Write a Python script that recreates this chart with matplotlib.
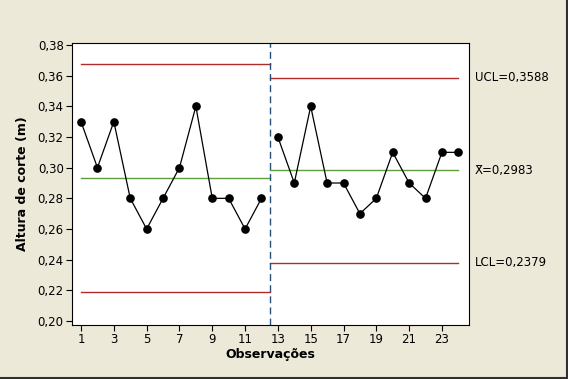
import matplotlib.pyplot as plt
import numpy as np

# dados
obs = np.arange(1, 25)
altura = [0.33, 0.30, 0.33, 0.28, 0.26, 0.28, 0.30, 0.34, 0.28, 0.28, 0.26, 0.28,
          0.32, 0.29, 0.34, 0.29, 0.29, 0.27, 0.28, 0.31, 0.29, 0.28, 0.31, 0.31]
fase1 = [1, 12.5]
fase2 = [12.5, 24]
ucl1, media1, lcl1 = 0.3675, 0.2933, 0.2192
ucl2, media2, lcl2 = 0.3588, 0.2983, 0.2379
rotulos = ['UCL=0,3588', 'X\u0304=0,2983', 'LCL=0,2379']
yticks = [0.20, 0.22, 0.24, 0.26, 0.28, 0.30, 0.32, 0.34, 0.36, 0.38]
xticks = [1, 3, 5, 7, 9, 11, 13, 15, 17, 19, 21, 23]

fundo = '#ECE9D8'
vermelho = '#B22A2A'
verde = '#5E9E3C'

fig = plt.figure(figsize=(5.68, 3.79), dpi=100, facecolor=fundo)
ax = fig.add_axes([72/568, 1-325/379, (469-72)/568, (325-43)/379])
ax.set_facecolor('white')

# limites de controle
ax.plot(fase1, [ucl1, ucl1], color=vermelho, lw=1)
ax.plot(fase1, [media1, media1], color=verde, lw=1)
ax.plot(fase1, [lcl1, lcl1], color=vermelho, lw=1)
ax.plot(fase2, [ucl2, ucl2], color=vermelho, lw=1)
ax.plot(fase2, [media2, media2], color=verde, lw=1)
ax.plot(fase2, [lcl2, lcl2], color=vermelho, lw=1)
ax.axvline(12.5, color='#24507A', lw=1, ls=(0, (5, 3)))

# pontos
ax.plot(obs[:12], altura[:12], color='black', lw=0.9, marker='o', ms=5.2)
ax.plot(obs[12:], altura[12:], color='black', lw=0.9, marker='o', ms=5.2)

ax.set_xlim(0.45, 24.65)
ax.set_ylim(0.1974, 0.3813)
ax.set_xticks(xticks)
ax.set_xticklabels([str(x) for x in xticks], fontsize=8.5)
ax.set_yticks(yticks)
ax.set_yticklabels([('%.2f' % y).replace('.', ',') for y in yticks], fontsize=8.5)
ax.tick_params(length=4, width=0.8, pad=2)
ax.set_xlabel('Observações', fontsize=9, fontweight='bold', labelpad=1)
ax.set_ylabel('Altura de corte (m)', fontsize=9, fontweight='bold', labelpad=6)

for v, t in zip([ucl2, media2, lcl2], rotulos):
    ax.text(1.015, v, t, transform=ax.get_yaxis_transform(), va='center', ha='left',
            fontsize=8.5, clip_on=False)

# borda da figura (so em baixo e a direita)
fig.add_artist(plt.Line2D([0, 1], [0.002, 0.002], transform=fig.transFigure, color='#303030', lw=1.5))
fig.add_artist(plt.Line2D([0.998, 0.998], [0, 1], transform=fig.transFigure, color='#303030', lw=1.5))

plt.savefig('out.png', dpi=100, facecolor=fundo)
